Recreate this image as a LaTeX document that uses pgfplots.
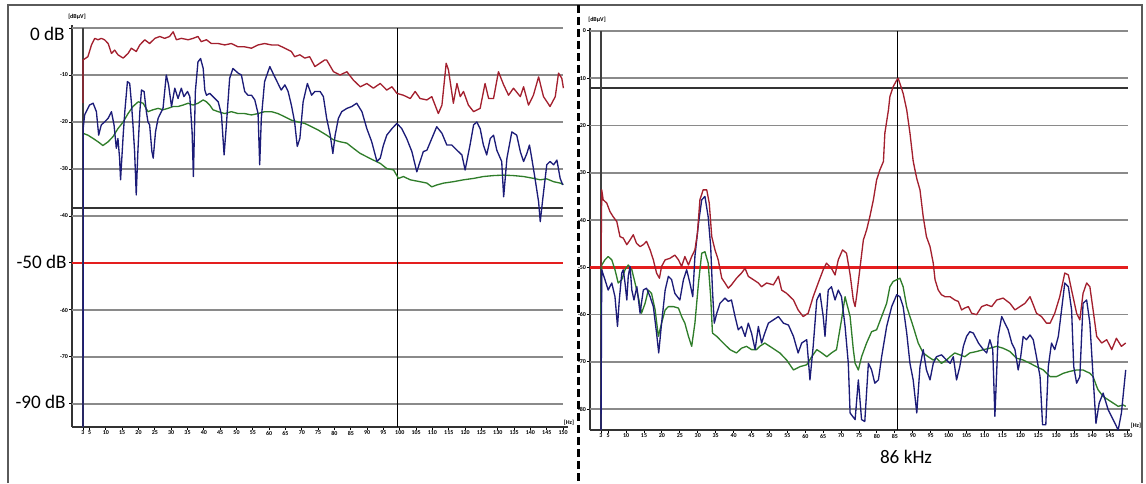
\documentclass[border=0pt]{standalone}
\usepackage{pgfplots}
\pgfplotsset{compat=1.18}
\usepackage{fontspec}
\setmainfont{Carlito}
\definecolor{trred}{HTML}{A3202E}
\definecolor{trblue}{HTML}{1C1C78}
\definecolor{trgreen}{HTML}{2F7D2A}
\definecolor{limred}{HTML}{E41E1E}
\definecolor{gridg}{HTML}{8A8A8A}
\definecolor{frameg}{HTML}{5A5A5A}
\pgfplotsset{
  spec/.style={
    scale only axis,
    axis x line=bottom, axis y line=left,
    axis line style={-, draw=black!80, line width=1.1pt},
    tick style={black, line width=0.6pt},
    major tick length=1.6pt,
    tick align=outside,
    xtick={3,5,10,...,150},
    ytick={0,-10,...,-80},
    /pgf/number format/assume math mode=true,
    ticklabel style={font=\fontsize{3.6}{4}\selectfont\bfseries, inner sep=0.6pt},
    clip=false,
  },
  trace/.style={line width=0.8pt, line join=round},
}
\begin{document}
\begin{tikzpicture}
\useasboundingbox (0pt,0pt) rectangle (687.6pt,-289.8pt);
% ---------- left panel ----------
\begin{axis}[spec, at={(43.2pt,-256.2pt)}, anchor=south west,
  width=297.6pt, height=241.2pt,
  xmin=-0.37, xmax=151.5, ymin=-84.9, ymax=0.64,
  yticklabels={{},{-10},{-20},{-30},{-40},{},{-60},{-70},{}}]
\foreach \g in {0,-10,-20,-30,-40,-60,-70,-80}{
  \edef\tmp{\noexpand\draw[gridg, line width=1pt] (axis cs:-0.37,\g) -- (axis cs:150,\g);}\tmp}
\draw[black!80, line width=1.3pt] (axis cs:-0.37,-38.3) -- (axis cs:150,-38.3);
\draw[limred, line width=1.4pt] (axis cs:-0.37,-50) -- (axis cs:150,-50);
\draw[black, line width=0.7pt] (axis cs:99.2,0) -- (axis cs:99.2,-84.9);
\draw[black!75, line width=0.7pt] (axis cs:3,0) -- (axis cs:3,-84.9);
\addplot[trace, trgreen] coordinates {(3.0,-22.4)(4.5,-22.8)(6.1,-23.5)(7.6,-24.2)(9.1,-25.0)(10.7,-24.2)(12.2,-23.1)(13.7,-21.4)(15.3,-20.0)(16.8,-18.2)(18.3,-16.7)(19.9,-15.7)(21.4,-16.0)(22.9,-17.8)(24.4,-17.4)(26.0,-17.1)(27.5,-17.4)(29.0,-17.1)(30.6,-16.7)(32.1,-16.7)(33.6,-16.4)(35.2,-16.0)(36.7,-16.4)(38.2,-16.0)(39.8,-15.3)(40.8,-15.7)(41.8,-16.4)(42.8,-17.4)(44.4,-17.8)(46.4,-18.2)(48.4,-17.8)(50.5,-18.2)(52.5,-18.2)(54.6,-18.5)(56.6,-18.2)(58.6,-17.8)(60.7,-17.8)(62.7,-18.2)(64.8,-18.9)(66.8,-19.6)(68.9,-20.0)(70.9,-20.3)(73.0,-21.0)(75.0,-21.7)(77.6,-22.8)(79.7,-23.8)(81.7,-24.2)(83.8,-24.5)(85.8,-25.6)(87.9,-26.7)(89.9,-27.4)(91.9,-28.1)(94.0,-28.8)(96.0,-29.9)(98.1,-30.2)(99.6,-32.0)(101.1,-31.6)(103.2,-32.3)(106.2,-32.7)(108.3,-33.0)(109.8,-33.8)(111.3,-33.4)(113.4,-33.0)(116.4,-32.7)(119.5,-32.3)(122.6,-32.0)(125.6,-31.6)(128.7,-31.4)(131.8,-31.3)(134.8,-31.4)(137.9,-31.6)(141.0,-32.0)(143.0,-32.3)(145.0,-32.1)(147.1,-32.7)(149.1,-33.0)(150.1,-33.3)};
\addplot[trace, trblue] coordinates {(3,-84.9)(3.1,-21)(3.5,-18.5)(5.0,-16.4)(6.1,-16.0)(7.1,-17.8)(7.8,-22.8)(8.6,-20.6)(9.6,-20.0)(10.7,-19.2)(11.7,-17.8)(12.5,-20.6)(13.2,-25.6)(13.7,-23.5)(14.2,-27.7)(14.5,-32.3)(15.3,-22.8)(15.8,-17.8)(16.6,-11.4)(17.3,-11.8)(17.8,-15.7)(18.3,-20.6)(18.8,-26.3)(19.3,-35.5)(19.8,-26.3)(20.4,-17.8)(20.9,-13.2)(21.7,-13.5)(22.4,-17.8)(22.9,-20.0)(23.4,-20.6)(24.1,-26.3)(24.5,-27.7)(25.2,-22.1)(26.0,-19.2)(27.5,-17.1)(28.5,-10.0)(29.2,-12.1)(30.1,-16.7)(31.1,-12.8)(32.1,-15.0)(33.1,-12.8)(33.9,-14.6)(35.0,-13.5)(35.7,-14.6)(36.4,-22.1)(36.8,-31.6)(37.4,-13.5)(38.2,-7.2)(39.0,-6.5)(39.8,-8.6)(40.3,-13.2)(40.8,-14.3)(41.8,-13.9)(42.8,-14.6)(44.4,-15.7)(45.4,-18.5)(46.2,-27.0)(46.9,-20.6)(47.9,-10.7)(48.9,-8.6)(50.5,-9.6)(51.5,-10.0)(52.5,-13.5)(53.5,-14.3)(54.6,-14.3)(55.6,-15.3)(56.6,-18.2)(57.1,-29.1)(57.6,-19.2)(58.6,-11.4)(60.2,-8.2)(61.7,-10.4)(62.7,-11.8)(63.7,-13.2)(64.8,-12.1)(65.8,-13.5)(66.8,-16.4)(67.8,-20.0)(68.6,-25.2)(69.4,-23.5)(70.4,-15.7)(71.7,-11.8)(73.0,-14.3)(74.0,-13.5)(75.6,-13.5)(76.6,-14.6)(77.6,-19.2)(78.7,-22.8)(79.5,-26.7)(80.2,-22.8)(81.2,-19.2)(82.2,-17.8)(83.8,-17.1)(85.3,-16.7)(86.8,-16.0)(88.4,-17.8)(89.9,-21.4)(91.4,-24.2)(93.0,-28.4)(94.0,-27.7)(95.0,-24.9)(96.0,-22.8)(97.6,-21.4)(99.1,-20.3)(100.6,-21.4)(102.1,-23.5)(103.7,-26.3)(105.2,-30.6)(106.2,-28.4)(107.2,-26.3)(108.3,-26.0)(109.8,-23.5)(111.3,-21.0)(112.9,-22.4)(114.4,-24.9)(115.9,-24.9)(117.5,-26.0)(119.0,-27.0)(120.0,-30.2)(121.5,-24.9)(122.6,-20.6)(123.6,-20.0)(124.6,-21.4)(125.6,-24.9)(126.6,-27.0)(127.7,-23.5)(128.7,-22.8)(129.7,-26.0)(131.2,-28.4)(131.8,-35.9)(132.8,-27.7)(134.3,-22.1)(135.8,-22.8)(136.9,-26.3)(137.9,-28.4)(138.9,-26.7)(139.7,-24.9)(140.4,-27.7)(141.4,-32.0)(142.5,-37.0)(143.0,-41.2)(143.8,-36.2)(145.0,-29.1)(146.0,-28.4)(147.1,-29.1)(148.1,-28.1)(149.1,-32.0)(149.9,-33.4)};
\addplot[trace, trred] coordinates {(3,-16)(3.0,-6.8)(4.5,-6.1)(5.6,-3.6)(6.6,-2.2)(7.6,-2.5)(8.6,-2.2)(9.6,-2.5)(10.7,-3.3)(11.7,-5.4)(12.7,-4.7)(13.7,-5.7)(15.3,-6.4)(16.8,-5.4)(17.8,-4.3)(19.3,-5.0)(20.4,-3.6)(21.9,-2.5)(23.4,-3.3)(25.0,-2.2)(26.5,-1.8)(28.0,-2.2)(29.5,-1.8)(30.6,-0.8)(31.6,-2.5)(33.1,-2.2)(35.2,-2.5)(36.7,-2.2)(38.2,-1.8)(39.2,-2.9)(40.8,-2.5)(42.3,-3.3)(44.4,-3.3)(46.4,-3.6)(48.4,-3.3)(50.5,-4.0)(52.5,-4.0)(54.6,-4.3)(56.6,-3.6)(58.6,-3.3)(60.7,-3.6)(62.7,-3.6)(64.8,-4.3)(66.8,-5.0)(67.8,-6.1)(69.4,-5.7)(70.9,-6.4)(72.4,-6.1)(74.0,-8.2)(75.5,-7.5)(77.0,-6.8)(77.6,-6.8)(79.7,-9.3)(81.7,-10.0)(83.8,-9.3)(85.8,-11.1)(87.9,-12.5)(89.9,-11.8)(91.9,-12.8)(94.0,-11.8)(96.0,-13.2)(97.6,-12.5)(99.1,-13.9)(101.1,-14.3)(103.2,-15.0)(104.7,-13.5)(106.2,-15.0)(108.3,-15.3)(109.8,-14.6)(110.8,-16.4)(111.8,-18.2)(112.9,-16.4)(114.2,-7.5)(114.9,-8.9)(116.4,-16.0)(117.5,-11.8)(118.5,-14.6)(119.5,-13.5)(121.0,-16.4)(122.6,-17.8)(124.6,-17.1)(126.1,-11.8)(127.2,-15.0)(128.7,-15.0)(130.2,-9.3)(131.8,-12.1)(133.3,-14.3)(134.8,-12.8)(136.9,-14.6)(137.9,-12.5)(139.4,-16.4)(140.9,-14.3)(142.5,-10.4)(144.0,-14.6)(146.0,-16.7)(147.6,-14.6)(148.6,-9.6)(149.6,-10.7)(150.1,-12.8)};
\end{axis}
% ---------- right panel ----------
\begin{axis}[spec, at={(354pt,-258pt)}, anchor=south west,
  width=324pt, height=241.2pt,
  xmin=-0.07, xmax=150.6, ymin=-84.4, ymax=0.63]
\foreach \g in {0,-10,-20,-30,-40,-60,-70,-80}{
  \edef\tmp{\noexpand\draw[gridg, line width=1pt] (axis cs:-0.07,\g) -- (axis cs:150,\g);}\tmp}
\draw[black!80, line width=1.3pt] (axis cs:-0.07,-12.1) -- (axis cs:150,-12.1);
\draw[limred, line width=1.4pt] (axis cs:-0.07,-50) -- (axis cs:150,-50);
\draw[black, line width=0.8pt] (axis cs:85.8,0) -- (axis cs:85.8,-84.4);
\draw[black!75, line width=0.7pt] (axis cs:3,0) -- (axis cs:3,-84.4);
\addplot[trace, trgreen] coordinates {(3,-60)(3.2,-49.5)(4.1,-48.4)(5.0,-47.7)(6.0,-48.4)(6.9,-50.5)(7.8,-53.3)(8.8,-52.6)(9.7,-50.5)(10.6,-49.5)(11.6,-50.5)(12.5,-53.3)(13.4,-56.2)(14.3,-59.7)(15.3,-57.6)(16.2,-54.8)(17.1,-55.5)(18.1,-59.0)(19.0,-64.6)(19.9,-61.8)(20.9,-59.0)(21.8,-58.3)(23.2,-58.3)(24.6,-58.6)(25.5,-60.4)(26.4,-61.8)(27.4,-64.6)(28.3,-66.7)(29.2,-61.8)(30.2,-53.3)(31.1,-47.0)(32.0,-46.7)(32.9,-49.1)(33.6,-56.2)(34.1,-63.9)(35.3,-64.6)(37.1,-66.0)(39.0,-67.4)(40.8,-68.1)(42.2,-67.1)(43.6,-66.7)(45.0,-67.4)(46.4,-67.4)(47.3,-66.7)(48.7,-66.0)(50.1,-66.7)(51.5,-67.4)(52.9,-68.1)(54.8,-69.6)(56.7,-71.7)(58.5,-71.0)(60.4,-70.6)(61.8,-68.9)(63.2,-67.4)(64.6,-68.1)(66.0,-68.9)(67.3,-68.1)(68.7,-67.4)(70.1,-61.1)(71.1,-56.2)(72.5,-60.4)(73.4,-67.4)(73.9,-70.3)(74.8,-71.7)(75.7,-68.9)(77.1,-66.0)(78.5,-63.6)(79.9,-63.2)(81.3,-60.4)(82.7,-57.6)(83.6,-54.1)(84.5,-53.0)(85.5,-52.6)(86.4,-52.3)(87.3,-54.1)(88.3,-58.3)(89.2,-60.4)(90.1,-62.5)(91.5,-66.0)(92.9,-68.1)(94.3,-68.9)(95.7,-69.6)(96.6,-69.2)(98.0,-70.3)(99.4,-69.6)(100.4,-68.9)(101.7,-68.1)(103.1,-68.5)(104.5,-68.9)(105.9,-68.1)(107.8,-67.8)(109.7,-67.4)(111.5,-67.1)(113.4,-66.7)(115.2,-67.1)(117.1,-67.8)(118.9,-69.2)(120.8,-69.6)(122.7,-70.3)(124.5,-71.0)(126.4,-71.7)(128.3,-73.1)(130.1,-73.1)(132.0,-72.4)(133.8,-72.0)(135.7,-71.7)(137.5,-71.7)(139.4,-72.4)(140.3,-73.1)(141.3,-75.2)(141.7,-75.9)(143.1,-77.3)(144.5,-78.0)(145.9,-78.7)(147.3,-79.4)(148.7,-79.1)(149.4,-79.4)};
\addplot[trace, trblue] coordinates {(3,-84.4)(3.2,-50.5)(4.1,-52.6)(5.0,-54.8)(6.0,-53.3)(6.9,-56.2)(7.6,-62.5)(8.1,-56.9)(8.8,-51.2)(9.2,-50.5)(9.7,-53.3)(10.2,-56.9)(10.6,-51.9)(11.1,-49.8)(11.6,-54.8)(12.2,-56.9)(13.0,-54.1)(13.9,-59.7)(14.8,-54.8)(15.7,-54.4)(16.7,-56.2)(17.6,-58.3)(18.5,-63.9)(19.1,-68.1)(19.9,-61.8)(20.9,-54.8)(21.8,-51.9)(22.7,-52.6)(23.6,-55.5)(25.0,-56.9)(26.0,-52.6)(26.9,-50.5)(27.8,-53.3)(28.6,-56.2)(29.2,-47.7)(30.2,-40.7)(31.1,-35.7)(32.0,-35.0)(32.9,-39.3)(33.6,-45.6)(34.1,-54.8)(34.6,-61.8)(35.3,-59.7)(36.2,-57.6)(37.6,-56.5)(38.5,-57.2)(39.4,-56.9)(40.4,-60.4)(41.3,-63.2)(42.2,-62.5)(43.2,-64.6)(44.1,-61.8)(45.0,-63.9)(46.0,-67.4)(46.9,-62.5)(47.8,-66.0)(48.7,-63.9)(49.7,-61.8)(51.1,-61.1)(52.5,-60.4)(53.9,-61.8)(55.3,-62.2)(56.7,-64.6)(58.0,-68.1)(59.0,-66.0)(60.4,-65.3)(61.3,-73.8)(62.2,-66.7)(63.2,-56.9)(64.1,-55.5)(65.0,-60.4)(65.5,-64.6)(66.4,-54.8)(67.3,-54.1)(68.3,-56.9)(69.2,-54.8)(70.1,-56.2)(71.1,-62.5)(72.0,-70.3)(72.5,-80.8)(73.9,-82.2)(74.8,-73.8)(75.7,-82.2)(76.6,-82.6)(77.6,-70.3)(78.5,-71.7)(79.4,-74.5)(80.4,-73.8)(81.3,-68.9)(82.7,-62.5)(84.1,-58.3)(85.5,-55.8)(86.4,-56.2)(87.3,-58.3)(88.3,-63.9)(89.2,-70.3)(90.1,-73.8)(91.1,-80.8)(92.0,-71.0)(92.9,-67.4)(93.8,-71.7)(94.8,-73.8)(95.7,-70.3)(96.6,-68.9)(98.0,-68.5)(99.4,-69.6)(100.4,-70.3)(101.3,-68.9)(102.2,-73.8)(103.1,-71.0)(104.1,-66.7)(105.0,-64.6)(105.9,-63.6)(106.9,-63.9)(108.3,-66.0)(109.7,-67.4)(110.6,-68.1)(111.5,-65.3)(112.3,-67.4)(112.9,-81.5)(113.8,-64.6)(114.8,-60.4)(115.7,-61.8)(116.6,-63.2)(117.6,-66.0)(118.5,-67.4)(119.4,-71.7)(120.1,-68.9)(120.8,-64.6)(121.7,-65.3)(122.7,-64.3)(123.6,-65.3)(124.5,-68.9)(125.5,-73.1)(126.2,-83.3)(127.1,-83.3)(127.8,-71.0)(128.7,-66.0)(129.6,-67.4)(130.6,-64.6)(131.5,-59.0)(132.4,-53.3)(133.4,-54.1)(134.3,-59.0)(134.9,-71.0)(135.7,-74.5)(136.6,-73.1)(137.5,-57.6)(138.5,-56.9)(139.4,-61.8)(140.3,-73.1)(141.1,-83.0)(142.0,-78.7)(143.1,-76.6)(144.5,-80.1)(145.9,-82.2)(147.3,-84.4)(148.2,-80.8)(149.4,-71.7)};
\addplot[trace, trred] coordinates {(3,-50)(3.2,-33.6)(3.6,-35.7)(4.6,-36.4)(5.5,-38.2)(6.4,-39.3)(7.4,-40.3)(8.3,-43.5)(9.2,-43.8)(10.2,-45.2)(11.1,-44.2)(12.0,-43.1)(12.9,-44.9)(13.9,-45.6)(14.8,-45.2)(15.7,-44.5)(16.7,-46.3)(17.6,-48.4)(18.5,-51.2)(19.3,-52.3)(19.9,-49.8)(20.9,-48.4)(22.2,-48.1)(23.6,-47.4)(24.6,-48.4)(25.5,-49.8)(26.4,-47.7)(27.4,-49.5)(28.3,-47.7)(29.2,-46.3)(29.9,-42.8)(30.6,-35.7)(31.5,-33.6)(32.5,-33.6)(33.2,-36.4)(33.9,-43.5)(34.8,-46.3)(35.7,-48.4)(36.7,-52.3)(37.6,-53.3)(38.5,-54.4)(39.4,-53.7)(40.8,-52.3)(42.2,-51.2)(43.2,-50.2)(44.1,-51.9)(45.5,-52.6)(46.9,-53.3)(47.8,-54.1)(49.2,-53.3)(51.1,-53.7)(52.5,-51.9)(53.4,-54.8)(54.8,-55.5)(56.7,-56.9)(58.0,-59.0)(59.4,-60.4)(60.8,-59.7)(62.2,-56.2)(63.6,-53.3)(65.0,-50.5)(65.9,-49.1)(67.3,-50.2)(68.3,-51.6)(69.2,-48.4)(70.4,-46.3)(71.5,-47.0)(72.5,-51.5)(73.4,-56.9)(73.9,-58.3)(74.3,-56.2)(75.2,-50.5)(76.2,-44.2)(77.1,-42.1)(78.0,-39.3)(79.0,-35.7)(79.9,-31.5)(80.8,-29.4)(81.8,-27.6)(82.2,-21.6)(83.2,-16.7)(83.6,-13.9)(84.5,-11.8)(85.5,-10.4)(85.9,-10.0)(86.4,-11.1)(87.3,-13.2)(88.3,-16.7)(89.2,-21.6)(90.1,-27.5)(90.6,-29.4)(91.1,-31.2)(92.0,-33.6)(92.9,-39.3)(93.8,-43.5)(94.8,-45.6)(95.7,-49.1)(96.2,-52.6)(97.1,-54.8)(98.0,-55.8)(99.0,-56.2)(100.4,-56.2)(101.7,-56.9)(102.7,-57.2)(103.6,-59.0)(104.5,-58.6)(105.5,-58.3)(106.4,-59.7)(107.8,-60.0)(109.2,-58.3)(110.6,-57.9)(112.0,-58.3)(113.4,-56.9)(115.2,-56.5)(117.1,-57.6)(118.5,-59.0)(119.9,-58.3)(121.3,-57.6)(122.7,-56.2)(123.6,-57.9)(124.5,-59.7)(125.9,-60.4)(127.3,-61.8)(128.3,-61.8)(129.6,-59.7)(131.0,-56.2)(132.4,-51.2)(133.4,-51.6)(134.3,-54.8)(135.7,-59.7)(136.6,-61.1)(137.5,-55.5)(138.5,-53.3)(139.4,-54.1)(140.3,-59.0)(141.3,-64.6)(142.7,-66.0)(144.1,-65.3)(145.5,-67.4)(146.8,-65.0)(148.2,-66.7)(149.4,-66.0)};
\end{axis}
% ---------- frame and labels (pixel coordinates) ----------
\begin{scope}[x=0.6pt, y=-0.6pt]
\draw[frameg, line width=1.2pt] (8,483) -- (8,5) -- (1142,5) -- (1142,483);
\draw[black, line width=1.5pt, dash pattern=on 4.8pt off 2.4pt] (578.5,5) -- (578.5,483);
\node[anchor=east, inner sep=0pt, font=\fontsize{11.5}{13}\selectfont] at (65,34) {0 dB};
\node[anchor=east, inner sep=0pt, font=\fontsize{11.5}{13}\selectfont] at (67,262) {-50 dB};
\node[anchor=east, inner sep=0pt, font=\fontsize{11.5}{13}\selectfont] at (66,402) {-90 dB};
\node[inner sep=0pt, font=\fontsize{11.5}{13}\selectfont] at (906,457) {86 kHz};
\node[inner sep=0pt, font=\fontsize{3.6}{4}\selectfont\bfseries] at (77,17) {[dBµV]};
\node[inner sep=0pt, font=\fontsize{3.6}{4}\selectfont\bfseries] at (597,20) {[dBµV]};
\node[inner sep=0pt, font=\fontsize{3.6}{4}\selectfont\bfseries] at (569,423) {[Hz]};
\node[inner sep=0pt, font=\fontsize{3.6}{4}\selectfont\bfseries] at (1136,426) {[Hz]};
\end{scope}
\end{tikzpicture}
\end{document}
